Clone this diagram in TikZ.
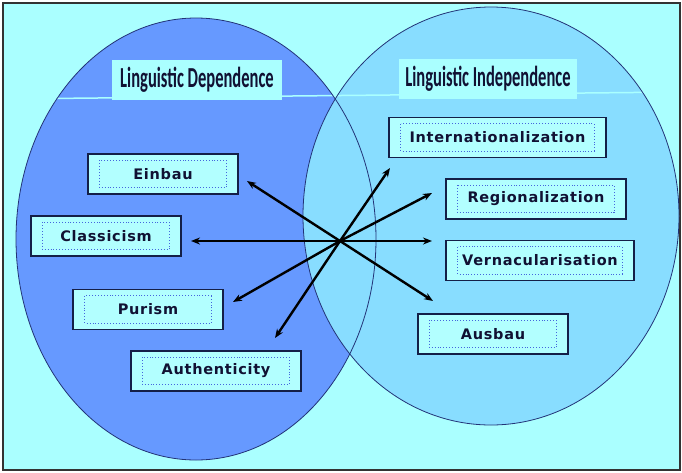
\documentclass[tikz,border=0pt]{standalone}
\usepackage{fontspec}
\setmainfont{DejaVu Sans}
\newfontfamily\titlefont{Carlito}
\newfontfamily\boxfont[LetterSpace=5]{DejaVu Sans}
\usepackage{graphicx}
\usetikzlibrary{arrows.meta,positioning}
\definecolor{bgcol}{RGB}{170,255,255}
\definecolor{depcol}{RGB}{102,153,255}
\definecolor{indcol}{RGB}{136,221,255}
\definecolor{rimcol}{RGB}{34,51,119}
\definecolor{boxcol}{RGB}{178,255,255}
\definecolor{dotcol}{RGB}{68,102,221}
\definecolor{inkcol}{RGB}{17,17,51}

\begin{document}
\begin{tikzpicture}[x=1pt, y=-1pt,
    box/.style={draw=rimcol!60!black, line width=1.2pt, fill=boxcol, minimum height=40pt, inner sep=0pt,
      font=\boxfont\bfseries\fontsize{14.5}{16}\selectfont, text=inkcol},
    heading/.style={fill=bgcol, minimum width=170pt, minimum height=40pt, inner sep=0pt,
      font=\titlefont\bfseries\fontsize{29}{31}\selectfont, text=inkcol},
    dotbox/.style={draw=dotcol, dotted, line width=0.9pt},
    arr/.style={-{Stealth[length=9pt, width=7pt]}, line width=2.4pt, black},
]
\useasboundingbox (0,0) rectangle (682,472);
\fill[white] (0,0) rectangle (682,472);
\fill[bgcol] (3,3) rectangle (680,470);
\draw[black!80, line width=1.2pt] (3,3) rectangle (680,470);

% the two sets
\fill[depcol] (196,239) ellipse [x radius=180pt, y radius=221pt];
\fill[indcol] (491,216) ellipse [x radius=188pt, y radius=209pt];
\begin{scope}
  \clip (196,239) ellipse [x radius=180pt, y radius=221pt]
        (491,216) ellipse [x radius=188pt, y radius=209pt];
  \draw[bgcol, line width=1.5pt] (0,99) -- (682,92);
\end{scope}
\draw[rimcol, line width=0.8pt] (196,239) ellipse [x radius=180pt, y radius=221pt];
\draw[rimcol, line width=0.8pt] (491,216) ellipse [x radius=188pt, y radius=209pt];

% headings
\node[heading] (dep) at (197,80) {\scalebox{0.57}[1]{Linguistic Dependence}};
\node[heading, minimum width=178pt] (ind) at (488,78.5) {\scalebox{0.57}[1]{Linguistic Independence}};

% left boxes
\node[box, minimum width=150pt] (ein) at (163,174) {Einbau};
\node[box, minimum width=150pt] (cla) at (106,236) {Classicism};
\node[box, minimum width=150pt] (pur) at (148,309.5) {Purism};
\node[box, minimum width=170pt] (aut) at (216,371) {Authenticity};

% right boxes
\node[box, minimum width=217pt] (int) at (497.5,137.5) {Internationalization};
\node[box, minimum width=180pt] (reg) at (536,199) {Regionalization};
\node[box, minimum width=188pt] (ver) at (540,260.5) {Vernacularisation};
\node[box, minimum width=150pt] (aus) at (493,334) {Ausbau};

\foreach \n in {ein,cla,pur,aut,int,reg,ver,aus}
  \draw[dotbox] ([shift={(12.5,7)}]\n.north west) rectangle ([shift={(-12.5,-7)}]\n.south east);

% arrows out of the crossing point
\coordinate (hub) at (340,241);
\coordinate (to-ein) at (247,181);
\coordinate (to-cla) at (191,241);
\coordinate (to-pur) at (233,302);
\coordinate (to-aut) at (275,338);
\coordinate (to-int) at (390,168);
\coordinate (to-reg) at (432,193);
\coordinate (to-ver) at (432,241);
\coordinate (to-aus) at (433,301);
\foreach \t in {ein,cla,pur,aut,int,reg,ver,aus}
  \draw[arr] (hub) -- (to-\t);
\end{tikzpicture}
\end{document}
